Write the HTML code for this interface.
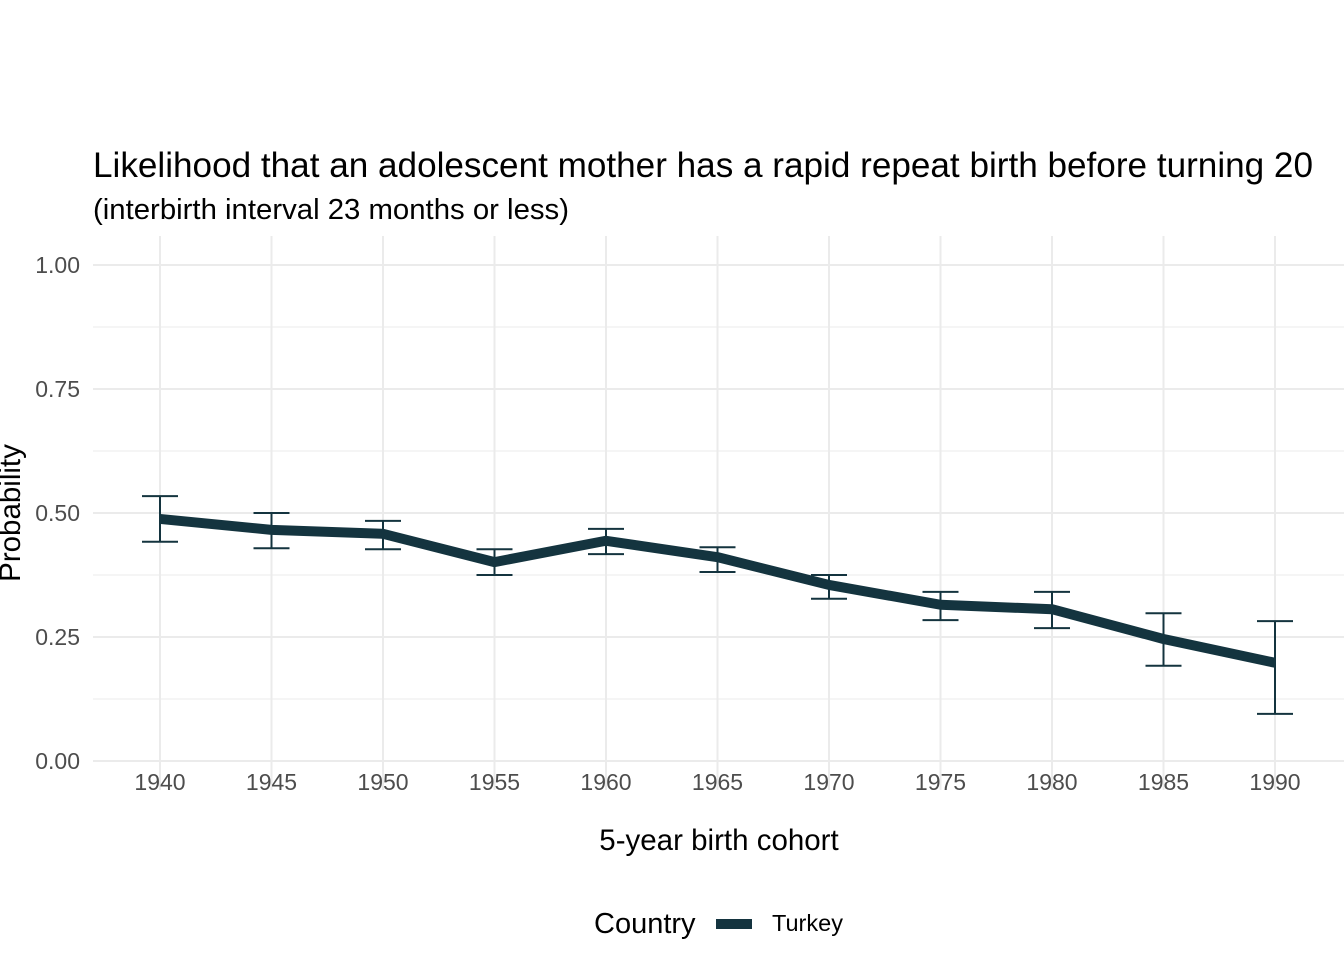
<!DOCTYPE html>
<html><head><meta charset="utf-8"><style>
html,body{margin:0;padding:0;background:#fff;}
svg text{font-family:"Liberation Sans",Arial,sans-serif;}
</style></head><body>
<svg id="chart" width="1344" height="960" viewBox="0 0 1344 960" xmlns="http://www.w3.org/2000/svg">
<rect width="1344" height="960" fill="#fff"/>
<text x="93" y="177" font-size="35" textLength="1220" lengthAdjust="spacingAndGlyphs" fill="#000">Likelihood that an adolescent mother has a rapid repeat birth before turning 20</text>
<text x="93" y="219" font-size="29" textLength="476" lengthAdjust="spacingAndGlyphs" fill="#000">(interbirth interval 23 months or less)</text>
<g id="grid"></g>
<g id="marks"></g>
<g id="axes"></g>
<text x="719" y="850" font-size="29.5" text-anchor="middle" fill="#000">5-year birth cohort</text>
<text transform="translate(20,513) rotate(-90)" font-size="29.5" text-anchor="middle" fill="#000">Probability</text>
<g>
<text x="594" y="933" font-size="29" fill="#000">Country</text>
<line x1="716" y1="924" x2="752" y2="924" stroke="#14343f" stroke-width="10"/>
<text x="772" y="931" font-size="23.5" fill="#000">Turkey</text>
</g>
</svg>
<script>
const years=[1940,1945,1950,1955,1960,1965,1970,1975,1980,1985,1990];
const probs=[0.488,0.466,0.458,0.401,0.444,0.411,0.355,0.315,0.306,0.246,0.198];
const upper=[0.534,0.500,0.484,0.427,0.468,0.431,0.375,0.341,0.341,0.298,0.282];
const lower=[0.442,0.429,0.427,0.375,0.417,0.381,0.327,0.284,0.268,0.192,0.095];
const yTicks=[0,0.25,0.5,0.75,1];
const yTickLabels=["0.00","0.25","0.50","0.75","1.00"];
const NS="http://www.w3.org/2000/svg";
const X=v=>160+(v-1940)*(1275-160)/50;
const Y=v=>761-v*(761-265);
function mk(tag,attrs,parent){const e=document.createElementNS(NS,tag);for(const k in attrs)e.setAttribute(k,attrs[k]);parent.appendChild(e);return e;}
const grid=document.getElementById('grid'),marks=document.getElementById('marks'),axes=document.getElementById('axes');
for(let i=0;i<yTicks.length-1;i++){const m=(yTicks[i]+yTicks[i+1])/2;
 const l=mk('line',{x1:93,x2:1344,y1:Y(m),y2:Y(m),stroke:'#ebebeb','stroke-width':1},grid);
 
 }
yTicks.forEach((t,i)=>{
 const l=mk('line',{x1:93,x2:1344,y1:Y(t),y2:Y(t),stroke:'#ebebeb','stroke-width':2},grid);
 
 
 const tx=mk('text',{x:80,y:Y(t)+8,'font-size':23,'text-anchor':'end',fill:'#4d4d4d'},axes);tx.textContent=yTickLabels[i];
 
 
});
years.forEach(yr=>{
 const l=mk('line',{x1:X(yr),x2:X(yr),y1:236,y2:790,stroke:'#ebebeb','stroke-width':2},grid);
 
 
 const tx=mk('text',{x:X(yr),y:790,'font-size':23,'text-anchor':'middle',fill:'#4d4d4d'},axes);tx.textContent=yr;
 
 
});
const col='#14343f';
years.forEach((yr,i)=>{
 const g=mk('g',{stroke:col,'stroke-width':2,fill:'none'},marks);
 
 
 const x=X(yr);
 mk('line',{x1:x,x2:x,y1:Y(upper[i]),y2:Y(lower[i])},g);
 mk('line',{x1:x-18,x2:x+18,y1:Y(upper[i]),y2:Y(upper[i])},g);
 mk('line',{x1:x-18,x2:x+18,y1:Y(lower[i]),y2:Y(lower[i])},g);
});
const p=mk('polyline',{points:years.map((yr,i)=>X(yr)+','+Y(probs[i])).join(' '),fill:'none',stroke:col,'stroke-width':10,'stroke-linejoin':'round'},marks);


</script>
</body></html>
